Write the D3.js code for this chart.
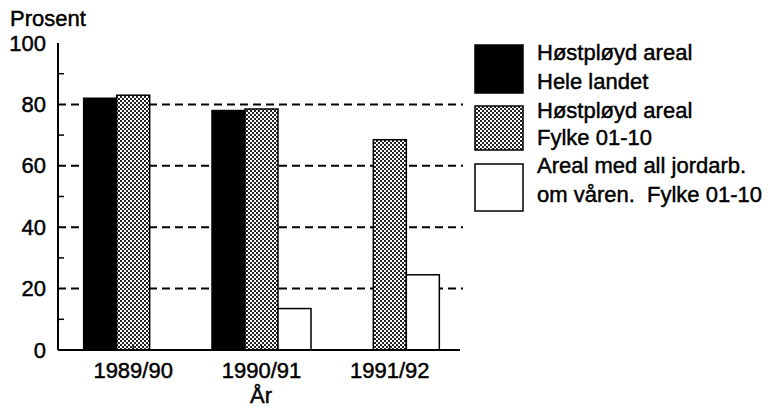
<!DOCTYPE html>
<html>
<head>
<meta charset="utf-8">
<script src="https://cdn.jsdelivr.net/npm/d3@7"></script>
<style>
  body { margin: 0; background: #fff; }
  text { font-family: "Liberation Sans", Arial, sans-serif; font-size: 22px; fill: #000; stroke: #000; stroke-width: 0.45px; }
</style>
</head>
<body>
<div id="chart"></div>
<script>
// data
var years = ["1989/90", "1990/91", "1991/92"];
var series = ["hele", "fylke", "var"];
var heleLandet = [82, 78, null];
var fylke = [83, 78.5, 68.5];
var varen = [null, 13.5, 24.5];
var yTicks = [0, 20, 40, 60, 80, 100];
var minorTicks = [10, 30, 50, 70, 90];
var legendLines = [
    ["Høstpløyd areal", "Hele landet"],
    ["Høstpløyd areal", "Fylke 01-10"],
    ["Areal med all jordarb.", "om våren.  Fylke 01-10"]
];

var width = 772, height = 408;
var margin = {top: 43, left: 58, right: 312, bottom: 58};

var svg = d3.select("#chart")
    .append("svg")
    .attr("width", width)
    .attr("height", height);

// stipple pattern for the county bars
var defs = svg.append("defs");
var pat = defs.append("pattern")
    .attr("id", "dots")
    .attr("patternUnits", "userSpaceOnUse")
    .attr("width", 4)
    .attr("height", 4);
pat.append("rect").attr("width", 4).attr("height", 4).attr("fill", "#fff");
pat.append("rect").attr("x", 0).attr("y", 0).attr("width", 2).attr("height", 2).attr("fill", "#222");
pat.append("rect").attr("x", 2).attr("y", 2).attr("width", 2).attr("height", 2).attr("fill", "#222");

var fills = {hele: "#000", fylke: "url(#dots)", var: "#fff"};

var yScale = d3.scaleLinear()
    .domain([0, 100])
    .range([height - margin.bottom, margin.top]);

var xScale = d3.scaleBand()
    .domain(years)
    .range([69, 454]);

var xSub = d3.scaleBand()
    .domain(series)
    .range([-49.5, 49.5]);

// dashed grid lines
svg.selectAll(".grid")
    .data(yTicks.filter(function(d) { return d > 0 && d < 100; }))
    .enter()
    .append("line")
        .attr("x1", margin.left)
        .attr("x2", 463)
        .attr("y1", function(d) { return yScale(d); })
        .attr("y2", function(d) { return yScale(d); })
        .attr("stroke", "#000")
        .attr("stroke-width", 2)
        .attr("stroke-dasharray", "8,5");

var rows = [];
years.forEach(function(y, i) {
    rows.push({year: y, key: "hele", value: heleLandet[i]});
    rows.push({year: y, key: "fylke", value: fylke[i]});
    rows.push({year: y, key: "var", value: varen[i]});
});

svg.selectAll(".bar")
    .data(rows.filter(function(d) { return d.value != null; }))
    .enter()
    .append("rect")
        .attr("class", "bar")
        .attr("x", function(d) { return xScale(d.year) + xScale.bandwidth() / 2 + xSub(d.key); })
        .attr("y", function(d) { return yScale(d.value); })
        .attr("width", xSub.bandwidth())
        .attr("height", function(d) { return yScale(0) - yScale(d.value); })
        .attr("fill", function(d) { return fills[d.key]; })
        .attr("stroke", "#000")
        .attr("stroke-width", 1.5);

// y axis
var yAxis = svg.append("g")
    .attr("transform", `translate(${margin.left},0)`)
    .call(d3.axisLeft(yScale).tickValues(yTicks).tickSize(0).tickPadding(12));
yAxis.select(".domain").attr("stroke-width", 2).attr("d", `M0,${margin.top}V${yScale(0)}`);
yAxis.selectAll("text").style("font-size", "22px").attr("font-family", null);

svg.selectAll(".minor")
    .data(minorTicks)
    .enter()
    .append("line")
        .attr("x1", margin.left)
        .attr("x2", margin.left + 6)
        .attr("y1", function(d) { return yScale(d); })
        .attr("y2", function(d) { return yScale(d); })
        .attr("stroke", "#000")
        .attr("stroke-width", 1.5);

// x axis
var xAxis = svg.append("g")
    .attr("transform", `translate(0,${yScale(0)})`)
    .call(d3.axisBottom(xScale).tickSize(-5).tickPadding(12));
xAxis.select(".domain").attr("stroke-width", 2).attr("d", `M${margin.left},0H460`);
xAxis.selectAll("line").attr("stroke-width", 1.2);
xAxis.selectAll("text").style("font-size", "22px").attr("font-family", null);

svg.append("text")
    .attr("x", 10)
    .attr("y", 26)
    .text("Prosent");

svg.append("text")
    .attr("x", 261)
    .attr("y", 403)
    .attr("text-anchor", "middle")
    .text("År");

// legend
var boxes = [{y: 45, h: 48}, {y: 106, h: 44}, {y: 164, h: 47}];
var textY = [[60, 89], [118, 145], [173, 202]];
series.forEach(function(k, i) {
    svg.append("rect")
        .attr("x", 475)
        .attr("y", boxes[i].y)
        .attr("width", 48)
        .attr("height", boxes[i].h)
        .attr("fill", fills[k])
        .attr("stroke", "#000")
        .attr("stroke-width", 1.5);
    legendLines[i].forEach(function(t, j) {
        svg.append("text")
            .attr("x", 537)
            .attr("y", textY[i][j])
            .style("white-space", "pre")
            .text(t);
    });
});
</script>
</body>
</html>
